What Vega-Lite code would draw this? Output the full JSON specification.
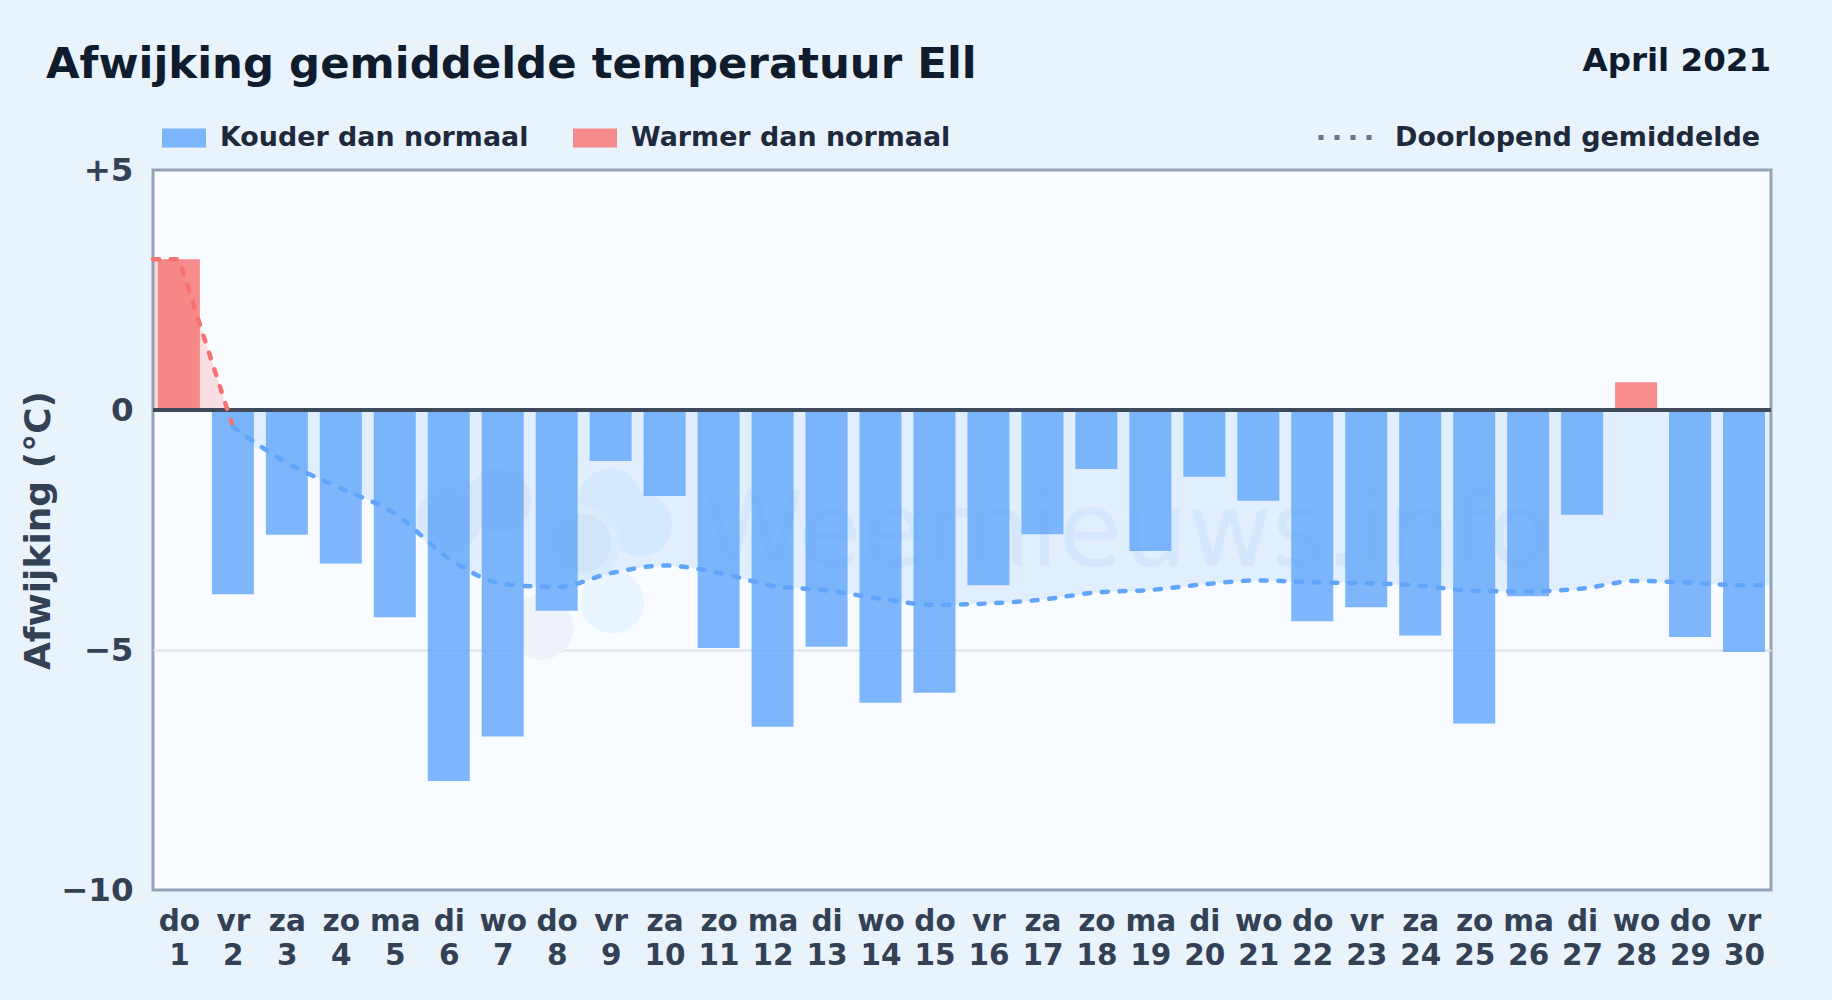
{
"$schema":"https://vega.github.io/schema/vega-lite/v6.json",
"width":1618,"height":720,
"autosize":{"type":"none"},
"padding":{"left":153,"top":170,"right":61,"bottom":110},
"background":"#e8f3fc",
"view":{"fill":"#f8fbff","stroke":"#94a3b8","strokeWidth":3},
"title":{"text":"Afwijking gemiddelde temperatuur Ell","anchor":"start","frame":"group","dx":-107,"offset":-86,"font":"DejaVu Sans","fontWeight":"bold","fontSize":43.4,"color":"#0f1c2e","baseline":"bottom"},
"datasets":{
"days":[
{"day":1,"weekday":"do","value":3.14,"series":"Warmer dan normaal"},
{"day":2,"weekday":"vr","value":-3.84,"series":"Kouder dan normaal"},
{"day":3,"weekday":"za","value":-2.6,"series":"Kouder dan normaal"},
{"day":4,"weekday":"zo","value":-3.2,"series":"Kouder dan normaal"},
{"day":5,"weekday":"ma","value":-4.32,"series":"Kouder dan normaal"},
{"day":6,"weekday":"di","value":-7.73,"series":"Kouder dan normaal"},
{"day":7,"weekday":"wo","value":-6.8,"series":"Kouder dan normaal"},
{"day":8,"weekday":"do","value":-4.18,"series":"Kouder dan normaal"},
{"day":9,"weekday":"vr","value":-1.06,"series":"Kouder dan normaal"},
{"day":10,"weekday":"za","value":-1.79,"series":"Kouder dan normaal"},
{"day":11,"weekday":"zo","value":-4.96,"series":"Kouder dan normaal"},
{"day":12,"weekday":"ma","value":-6.6,"series":"Kouder dan normaal"},
{"day":13,"weekday":"di","value":-4.93,"series":"Kouder dan normaal"},
{"day":14,"weekday":"wo","value":-6.1,"series":"Kouder dan normaal"},
{"day":15,"weekday":"do","value":-5.89,"series":"Kouder dan normaal"},
{"day":16,"weekday":"vr","value":-3.65,"series":"Kouder dan normaal"},
{"day":17,"weekday":"za","value":-2.59,"series":"Kouder dan normaal"},
{"day":18,"weekday":"zo","value":-1.23,"series":"Kouder dan normaal"},
{"day":19,"weekday":"ma","value":-2.94,"series":"Kouder dan normaal"},
{"day":20,"weekday":"di","value":-1.39,"series":"Kouder dan normaal"},
{"day":21,"weekday":"wo","value":-1.89,"series":"Kouder dan normaal"},
{"day":22,"weekday":"do","value":-4.4,"series":"Kouder dan normaal"},
{"day":23,"weekday":"vr","value":-4.11,"series":"Kouder dan normaal"},
{"day":24,"weekday":"za","value":-4.7,"series":"Kouder dan normaal"},
{"day":25,"weekday":"zo","value":-6.53,"series":"Kouder dan normaal"},
{"day":26,"weekday":"ma","value":-3.88,"series":"Kouder dan normaal"},
{"day":27,"weekday":"di","value":-2.18,"series":"Kouder dan normaal"},
{"day":28,"weekday":"wo","value":0.58,"series":"Warmer dan normaal"},
{"day":29,"weekday":"do","value":-4.73,"series":"Kouder dan normaal"},
{"day":30,"weekday":"vr","value":-5.04,"series":"Kouder dan normaal"}
],
"meanWarm":[{"day":0.52,"value":3.14},{"day":1,"value":3.14},{"day":1.9,"value":0},{"day":2,"value":-0.35}],
"meanCold":[
{"day":1.9,"value":0},{"day":2,"value":-0.35},{"day":3,"value":-1.1},{"day":4,"value":-1.63},{"day":5,"value":-2.16},{"day":6,"value":-3.09},{"day":7,"value":-3.62},{"day":8,"value":-3.69},{"day":9,"value":-3.4},{"day":10,"value":-3.24},{"day":11,"value":-3.39},{"day":12,"value":-3.66},{"day":13,"value":-3.76},{"day":14,"value":-3.93},{"day":15,"value":-4.06},{"day":16,"value":-4.03},{"day":17,"value":-3.95},{"day":18,"value":-3.8},{"day":19,"value":-3.75},{"day":20,"value":-3.63},{"day":21,"value":-3.55},{"day":22,"value":-3.59},{"day":23,"value":-3.61},{"day":24,"value":-3.66},{"day":25,"value":-3.77},{"day":26,"value":-3.78},{"day":27,"value":-3.72},{"day":28,"value":-3.56},{"day":29,"value":-3.6},{"day":30,"value":-3.65},{"day":30.5,"value":-3.65}
]
},
"encoding":{
"x":{"field":"day","type":"quantitative","scale":{"domain":[0.52,30.5],"nice":false,"zero":false,"padding":0},
"axis":{"title":null,"values":[1,2,3,4,5,6,7,8,9,10,11,12,13,14,15,16,17,18,19,20,21,22,23,24,25,26,27,28,29,30],"grid":false,"domain":false,"ticks":false,"labelPadding":17,"labelFont":"DejaVu Sans","labelFontWeight":"bold","labelFontSize":29.5,"labelColor":"#334155","labelLineHeight":34,"labelOverlap":false,"labelFlush":false,"labelBaseline":"top","labelExpr":"[split('do vr za zo ma di wo do vr za zo ma di wo do vr za zo ma di wo do vr za zo ma di wo do vr',' ')[datum.value-1],''+datum.value]"}},
"y":{"field":"value","type":"quantitative","scale":{"domain":[-10,5],"nice":false,"zero":false},
"axis":{"title":"Afwijking (°C)","values":[5,0,-5,-10],"domain":false,"ticks":false,"grid":true,"gridColor":"#dde4ea","gridWidth":2,"gridOpacity":{"condition":{"test":"datum.value==-5","value":1},"value":0},"labelPadding":20,"labelFont":"DejaVu Sans","labelFontWeight":"bold","labelFontSize":32.5,"labelColor":"#334155","labelExpr":"datum.value>0?'+'+datum.value:datum.value<0?'−'+abs(datum.value):'0'","titleFont":"DejaVu Sans","titleFontWeight":"bold","titleFontSize":36,"titleColor":"#334155","titlePadding":3}}
},
"layer":[
{"data":{"values":[{"day":6.0,"value":-2.3},{"day":6.93,"value":-1.88},{"day":7.71,"value":-4.53}]},"mark":{"type":"point","filled":true,"opacity":1,"color":"#eef3f9","size":4200}},
{"data":{"values":[{"day":8.99,"value":-1.88},{"day":9.55,"value":-2.4},{"day":9.03,"value":-4.0}]},"mark":{"type":"point","filled":true,"opacity":1,"color":"#e9f5ff","size":4000}},
{"data":{"values":[{"day":8.47,"value":-2.78}]},"mark":{"type":"point","filled":true,"opacity":1,"color":"#f0f7ff","size":5800}},
{"data":{"values":[{"day":8.47,"value":-2.78}]},"mark":{"type":"point","filled":true,"opacity":1,"color":"#e6eff8","size":3400}},
{"data":{"values":[{"day":18.56,"value":-3.24,"label":"Weernieuws.info"}]},"mark":{"type":"text","font":"DejaVu Sans","fontSize":103,"align":"center","baseline":"alphabetic","color":"#3b82f6","opacity":0.07},"encoding":{"text":{"field":"label"}}},
{"data":{"name":"meanCold"},"mark":{"type":"area","interpolate":"monotone","color":"#60a5fa","opacity":0.15},"encoding":{"y2":{"datum":0}}},
{"data":{"name":"meanWarm"},"transform":[{"filter":"datum.value>=0"}],"mark":{"type":"area","interpolate":"linear","color":"#f87171","opacity":0.2},"encoding":{"y2":{"datum":0}}},
{"data":{"name":"days"},"mark":{"type":"bar","width":42,"opacity":0.8},"encoding":{"y2":{"datum":0},"color":{"field":"series","type":"nominal","scale":{"domain":["Kouder dan normaal","Warmer dan normaal"],"range":["#60a5fa","#f87171"]},"legend":{"title":null,"orient":"none","direction":"horizontal","columns":2,"legendX":9,"legendY":-54,"padding":0,"symbolType":"M-1,-0.43H1V0.43H-1Z","symbolSize":1936,"symbolOpacity":0.8,"symbolStrokeWidth":0,"labelOffset":14,"labelLimit":600,"columnPadding":44,"labelFont":"DejaVu Sans","labelFontWeight":"bold","labelFontSize":26.9,"labelColor":"#1e293b"}}}},
{"data":{"values":[{"value":0}]},"mark":{"type":"rule","color":"#3f4a5c","strokeWidth":4},"encoding":{"x":{"value":0},"x2":{"value":1618}}},
{"data":{"values":[{"day":30.5,"value":-3.65}]},"mark":{"type":"line","color":"#64748b"},"encoding":{"strokeDash":{"datum":"Doorlopend gemiddelde","type":"nominal","scale":{"domain":["Doorlopend gemiddelde"],"range":[[5,11]]},"legend":{"title":null,"orient":"none","legendX":1163,"legendY":-62,"padding":0,"symbolType":"stroke","symbolSize":2916,"symbolStrokeWidth":5,"labelOffset":20,"labelLimit":600,"labelFont":"DejaVu Sans","labelFontWeight":"bold","labelFontSize":27,"labelColor":"#1e293b"}}}},
{"data":{"name":"meanWarm"},"mark":{"type":"line","interpolate":"linear","color":"#f87171","strokeWidth":4.5,"strokeCap":"round","strokeDash":[6,11.7]}},
{"data":{"name":"meanCold"},"transform":[{"filter":"datum.value<0"}],"mark":{"type":"line","interpolate":"monotone","color":"#60a5fa","strokeWidth":4.5,"strokeCap":"round","strokeDash":[6,11.7]}},
{"data":{"values":[{"day":30.5,"value":7.07,"label":"April 2021"}]},"mark":{"type":"text","font":"DejaVu Sans","fontWeight":"bold","fontSize":32.5,"align":"right","baseline":"alphabetic","color":"#0f1c2e","clip":false},"encoding":{"text":{"field":"label"}}}
]
}
